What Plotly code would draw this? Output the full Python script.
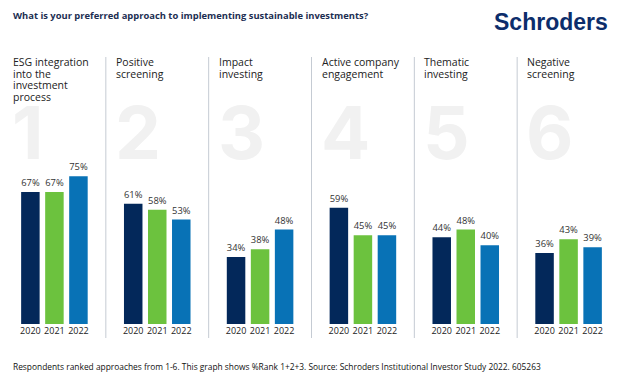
import plotly.graph_objects as go
from plotly.subplots import make_subplots

years = ["2020", "2021", "2022"]
approaches = [
    ["ESG integration", "into the", "investment", "process"],
    ["Positive", "screening"],
    ["Impact", "investing"],
    ["Active company", "engagement"],
    ["Thematic", "investing"],
    ["Negative", "screening"],
]
ranks = ["1", "2", "3", "4", "5", "6"]
values = [
    [67, 67, 75],
    [61, 58, 53],
    [34, 38, 48],
    [59, 45, 45],
    [44, 48, 40],
    [36, 43, 39],
]
year_colors = ["#03285a", "#6cc23e", "#0872b6"]

title_text = "What is your preferred approach to implementing sustainable investments?"
brand_text = "Schroders"
footer_text = ("Respondents ranked approaches from 1-6. This graph shows %Rank 1+2+3. "
               "Source: Schroders Institutional Investor Study 2022. 605263")

W, H = 629, 384
ML, MR, MT, MB = 3, 9, 57, 60
PH = H - MT - MB

fig = make_subplots(rows=1, cols=6, horizontal_spacing=0, shared_yaxes=True)

for i, vals in enumerate(values):
    fig.add_trace(
        go.Bar(
            x=years, y=vals,
            marker=dict(color=year_colors, line=dict(width=0)),
            text=[f"{v}%" for v in vals],
            textposition="outside",
            textfont=dict(family="Open Sans", size=9.7, color="#333333"),
            cliponaxis=False,
            showlegend=False,
            hoverinfo="skip",
        ),
        row=1, col=i + 1,
    )

annotations = []
font_main = "Open Sans"
for i in range(6):
    xd = "x domain" if i == 0 else f"x{i+1} domain"
    # big rank digit (background)
    annotations.append(dict(
        text=f"<b>{ranks[i]}</b>", xref=xd, yref="paper", x=0, xanchor="left",
        y=(H - MB - 132) / PH, yanchor="middle", xshift=7, showarrow=False,
        font=dict(family="Inter", size=73, color="#f1f1f1"),
    ))
    # panel title lines
    for j, line in enumerate(approaches[i]):
        cy = 62 + j * 11.7
        annotations.append(dict(
            text=line, xref=xd, yref="paper", x=0, xanchor="left", xshift=8,
            y=1, yanchor="middle", yshift=-(cy - MT), showarrow=False,
            font=dict(family=font_main, size=10.5, color="#222222"),
        ))

annotations.append(dict(
    text=f"<b>{title_text}</b>", xref="paper", yref="paper",
    x=(12 - ML) / (W - ML - MR), xanchor="left", xshift=-1,
    y=1, yanchor="middle", yshift=(MT - 15), showarrow=False,
    font=dict(family=font_main, size=9.4, color="#1c2e52"),
))
annotations.append(dict(
    text=f"<b>{brand_text}</b>", xref="paper", yref="paper",
    x=1, xanchor="right", xshift=-10,
    y=1, yanchor="middle", yshift=(MT - 22), showarrow=False,
    font=dict(family="Liberation Sans", size=23, color="#0c2d6b"),
))
annotations.append(dict(
    text=footer_text, xref="paper", yref="paper",
    x=(12 - ML) / (W - ML - MR), xanchor="left", xshift=-1,
    y=0, yanchor="middle", yshift=-(366 - (H - MB)), showarrow=False,
    font=dict(family=font_main, size=8.4, color="#111111"),
))

shapes = []
for k in range(1, 6):
    shapes.append(dict(
        type="line", xref="paper", yref="paper", x0=k / 6, x1=k / 6,
        y0=-14 / PH, y1=1, line=dict(color="#c5cbd3", width=1),
    ))

fig.update_xaxes(
    range=[-1.14, 3.14], showgrid=False, zeroline=False, showline=False,
    ticks="", tickfont=dict(family=font_main, size=9, color="#222222"),
    fixedrange=True,
)
fig.update_yaxes(range=[0, PH / 1.97], visible=False, showgrid=False, fixedrange=True)

fig.update_layout(
    width=W, height=H,
    margin=dict(l=ML, r=MR, t=MT, b=MB),
    paper_bgcolor="white", plot_bgcolor="white",
    bargap=0.23,
    annotations=annotations,
    shapes=shapes,
    showlegend=False,
)

fig.write_html("out.html", config={"displayModeBar": False},
               post_script="document.body.style.margin='0';")
